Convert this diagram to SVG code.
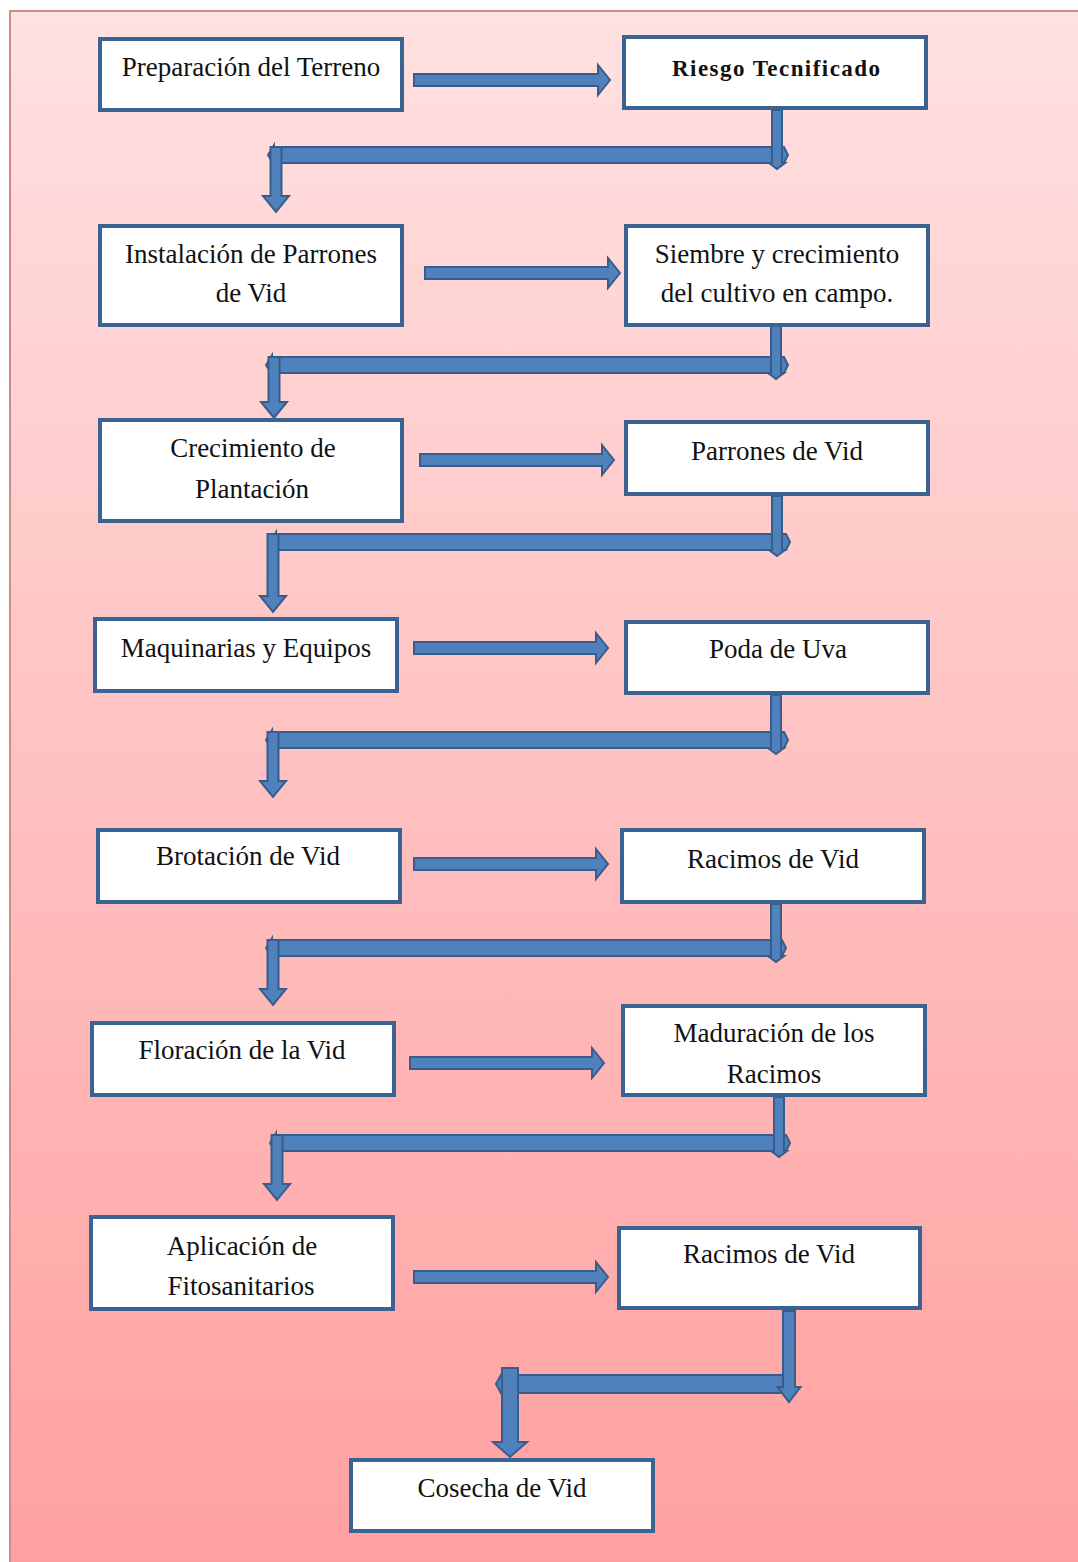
<svg xmlns="http://www.w3.org/2000/svg" width="1078" height="1562" viewBox="0 0 1078 1562">
<defs>
<linearGradient id="bg" x1="0" y1="0" x2="0" y2="1">
<stop offset="0" stop-color="#FFE1E1"/>
<stop offset="1" stop-color="#FFA0A0"/>
</linearGradient>
<style>
.box{fill:#FFFFFF;stroke:#3B6391;stroke-width:4}
.t{font-family:"Liberation Serif","Times New Roman",serif;font-size:27px;fill:#111;text-anchor:middle}
.tb{font-family:"Liberation Serif","Times New Roman",serif;font-size:23px;font-weight:bold;fill:#111;text-anchor:middle}
.ar{fill:#4F81BD;stroke:#385D8A;stroke-width:2;stroke-linejoin:miter}
</style>
</defs>
<rect x="0" y="0" width="1078" height="1562" fill="#FFFFFF"/>
<rect x="10" y="11" width="1080" height="1560" fill="url(#bg)" stroke="#D08A8A" stroke-width="2"/>

<g id="connectors">
<path class="ar" d="M414,74 H598 V65 L610,80 L598,95 V86 H414 Z"/>
<path class="ar" d="M425,267 H608 V258 L620,273 L608,288 V279 H425 Z"/>
<path class="ar" d="M420,454 H602 V445 L614,460 L602,475 V466 H420 Z"/>
<path class="ar" d="M414,642 H596 V633 L608,648 L596,663 V654 H414 Z"/>
<path class="ar" d="M414,858 H596 V849 L608,864 L596,879 V870 H414 Z"/>
<path class="ar" d="M410,1057 H592 V1048 L604,1063 L592,1078 V1069 H410 Z"/>
<path class="ar" d="M414,1271 H596 V1262 L608,1277 L596,1292 V1283 H414 Z"/>

<path class="ar" d="M268,155 L274,145 V147 H784 L788,155 L784,163 H274 V165 Z"/>
<path class="ar" d="M772,110 V163 H769 L777,169 L785,163 H782 V110 Z"/>
<path class="ar" d="M270.5,147 V196 H263 L276,212 L289,196 H281.5 V147 Z"/>

<path class="ar" d="M266,365 L272,355 V357 H784 L788,365 L784,373 H272 V375 Z"/>
<path class="ar" d="M771,322 V373 H768 L776,379 L784,373 H781 V322 Z"/>
<path class="ar" d="M268.5,357 V402 H261 L274,418 L287,402 H279.5 V357 Z"/>

<path class="ar" d="M270,542 L276,532 V534 H786 L790,542 L786,550 H276 V552 Z"/>
<path class="ar" d="M772,496 V550 H769 L777,556 L785,550 H782 V496 Z"/>
<path class="ar" d="M267.5,534 V596 H260 L273,612 L286,596 H278.5 V534 Z"/>

<path class="ar" d="M266,740 L272,730 V732 H784 L788,740 L784,748 H272 V750 Z"/>
<path class="ar" d="M771,695 V748 H768 L776,754 L784,748 H781 V695 Z"/>
<path class="ar" d="M267.5,732 V781 H260 L273,797 L286,781 H278.5 V732 Z"/>

<path class="ar" d="M266,948 L272,938 V940 H782 L786,948 L782,956 H272 V958 Z"/>
<path class="ar" d="M771,904 V956 H768 L776,962 L784,956 H781 V904 Z"/>
<path class="ar" d="M267.5,940 V989 H260 L273,1005 L286,989 H278.5 V940 Z"/>

<path class="ar" d="M270,1143 L276,1133 V1135 H786 L790,1143 L786,1151 H276 V1153 Z"/>
<path class="ar" d="M774,1097 V1151 H771 L779,1157 L787,1151 H784 V1097 Z"/>
<path class="ar" d="M271.5,1135 V1184 H264 L277,1200 L290,1184 H282.5 V1135 Z"/>

<path class="ar" d="M496,1384 L502,1373 V1375 H795 V1393 H502 V1395 Z"/>
<path class="ar" d="M783,1311 V1387 H777.5 L789,1402 L800.5,1387 H795 V1311 Z"/>
<path class="ar" d="M502,1368 V1442 H493 L510,1457 L527,1442 H518 V1368 Z"/>
</g>

<g id="n1"><rect class="box" x="100" y="39" width="302" height="71"/><text class="t" x="251" y="76">Preparación del Terreno</text></g>
<g id="n2"><rect class="box" x="624" y="37" width="302" height="71"/><text class="tb" x="776" y="76" textLength="208" lengthAdjust="spacing">Riesgo Tecnificado</text></g>
<g id="n3"><rect class="box" x="100" y="226" width="302" height="99"/><text class="t" x="251" y="263">Instalación de Parrones</text><text class="t" x="251" y="302">de Vid</text></g>
<g id="n4"><rect class="box" x="626" y="226" width="302" height="99"/><text class="t" x="777" y="263">Siembre y crecimiento</text><text class="t" x="777" y="302">del cultivo en campo.</text></g>
<g id="n5"><rect class="box" x="100" y="420" width="302" height="101"/><text class="t" x="253" y="457">Crecimiento de</text><text class="t" x="252" y="498">Plantación</text></g>
<g id="n6"><rect class="box" x="626" y="422" width="302" height="72"/><text class="t" x="777" y="460">Parrones de Vid</text></g>
<g id="n7"><rect class="box" x="95" y="619" width="302" height="72"/><text class="t" x="246" y="657">Maquinarias y Equipos</text></g>
<g id="n8"><rect class="box" x="626" y="622" width="302" height="71"/><text class="t" x="778" y="658">Poda de Uva</text></g>
<g id="n9"><rect class="box" x="98" y="830" width="302" height="72"/><text class="t" x="248" y="865">Brotación de Vid</text></g>
<g id="n10"><rect class="box" x="622" y="830" width="302" height="72"/><text class="t" x="773" y="868">Racimos de Vid</text></g>
<g id="n11"><rect class="box" x="92" y="1023" width="302" height="72"/><text class="t" x="242" y="1059">Floración de la Vid</text></g>
<g id="n12"><rect class="box" x="623" y="1006" width="302" height="89"/><text class="t" x="774" y="1042">Maduración de los</text><text class="t" x="774" y="1083">Racimos</text></g>
<g id="n13"><rect class="box" x="91" y="1217" width="302" height="92"/><text class="t" x="242" y="1255">Aplicación de</text><text class="t" x="241" y="1295">Fitosanitarios</text></g>
<g id="n14"><rect class="box" x="619" y="1228" width="301" height="80"/><text class="t" x="769" y="1263">Racimos de Vid</text></g>
<g id="n15"><rect class="box" x="351" y="1460" width="302" height="71"/><text class="t" x="502" y="1497">Cosecha de Vid</text></g>
</svg>
